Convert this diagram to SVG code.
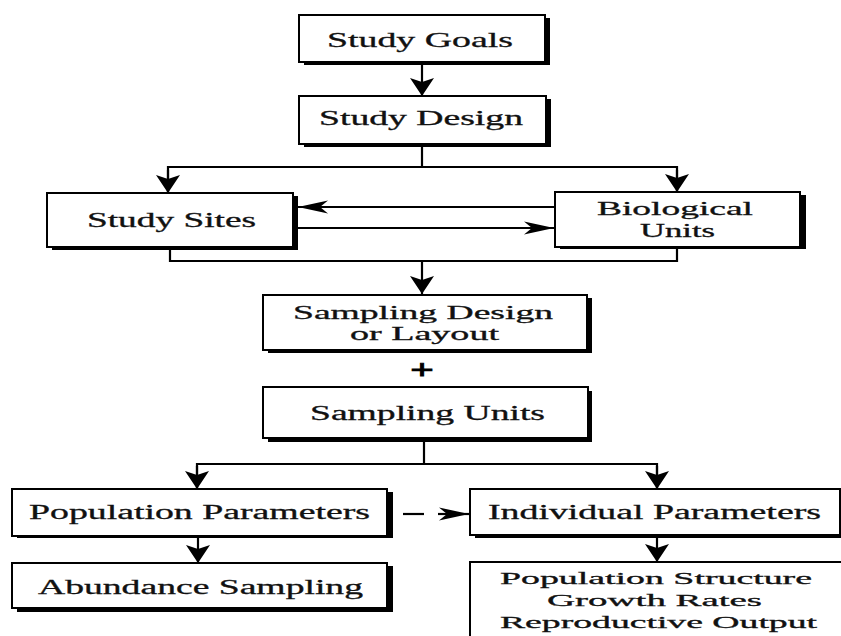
<svg xmlns="http://www.w3.org/2000/svg" width="841" height="636" viewBox="0 0 841 636">
  <style>
    .face { fill: #ffffff; stroke: #000000; stroke-width: 2; }
    .shadow { fill: #000000; }
    .lbl { font-family: "Liberation Serif", "Times New Roman", serif; font-size: 20px; fill: #111111; text-anchor: middle; stroke: #111111; stroke-width: 0.3; }
    .lbl2 { font-size: 18px; }
    .lbl3 { font-size: 16.5px; }
    .plus { font-family: "Liberation Serif", "Times New Roman", serif; font-size: 28px; font-weight: bold; fill: #000000; stroke: #000000; stroke-width: 0.8; text-anchor: middle; }
    .conn { fill: none; stroke: #000000; stroke-width: 2.2; }
    .big { marker-end: url(#bigArrow); }
    .thin { marker-end: url(#thinArrow); }
  </style>
  <defs>
    <marker id="bigArrow" markerUnits="userSpaceOnUse" viewBox="-20 -13 21 26" refX="0" refY="0" markerWidth="21" markerHeight="26" orient="auto">
      <path d="M0,0 L-18,-12 L-14,0 L-18,12 Z" fill="#000000"/>
    </marker>
    <marker id="thinArrow" markerUnits="userSpaceOnUse" viewBox="-32 -8 33 16" refX="0" refY="0" markerWidth="33" markerHeight="16" orient="auto">
      <path d="M0,0 L-30,-6.5 L-22,0 L-30,6.5 Z" fill="#000000"/>
    </marker>
  </defs>

  <rect x="0" y="0" width="841" height="636" fill="#ffffff"/>

  <g id="connectors">
    <line class="conn big" x1="422" y1="65" x2="422" y2="96"/>
    <polyline class="conn" points="422,147 422,167"/>
    <polyline class="conn" points="168,192 168,167 677,167 677,192"/>
    <line class="conn big" x1="168" y1="170" x2="168" y2="193"/>
    <line class="conn big" x1="677" y1="170" x2="677" y2="192"/>
    <line class="conn thin" x1="555" y1="207" x2="298" y2="207"/>
    <line class="conn thin" x1="298" y1="228" x2="554" y2="228"/>
    <polyline class="conn" points="170,250 170,261 677,261 677,249"/>
    <line class="conn big" x1="422" y1="261" x2="422" y2="294"/>
    <line class="conn" x1="424" y1="442" x2="424" y2="464"/>
    <polyline class="conn" points="197,488 197,464 657,464 657,488"/>
    <line class="conn big" x1="197" y1="466" x2="197" y2="489"/>
    <line class="conn big" x1="657" y1="466" x2="657" y2="489"/>
    <line class="conn" x1="403" y1="514" x2="424" y2="514"/>
    <line class="conn thin" x1="438" y1="514" x2="469" y2="514"/>
    <line class="conn big" x1="198" y1="538" x2="198" y2="563"/>
    <line class="conn big" x1="657" y1="538" x2="657" y2="562"/>
  </g>

  <g id="study-goals">
    <rect class="shadow" x="304" y="18" width="246" height="47"/>
    <rect class="face" x="299" y="15" width="246" height="47"/>
    <text class="lbl" x="420" y="47" textLength="186" lengthAdjust="spacingAndGlyphs" style="font-size:21px">Study Goals</text>
  </g>

  <g id="study-design">
    <rect class="shadow" x="304" y="99" width="247" height="48"/>
    <rect class="face" x="299" y="96" width="247" height="48"/>
    <text class="lbl" x="421" y="125" textLength="204" lengthAdjust="spacingAndGlyphs">Study Design</text>
  </g>

  <g id="study-sites">
    <rect class="shadow" x="52" y="196" width="246" height="54"/>
    <rect class="face" x="47" y="193" width="246" height="54"/>
    <text class="lbl" x="171.5" y="227" textLength="169" lengthAdjust="spacingAndGlyphs">Study Sites</text>
  </g>

  <g id="biological-units">
    <rect class="shadow" x="560" y="195" width="246" height="54"/>
    <rect class="face" x="555" y="192" width="245" height="55"/>
    <text class="lbl lbl2" x="675" y="215" textLength="156" lengthAdjust="spacingAndGlyphs">Biological</text>
    <text class="lbl lbl2" x="677.5" y="237" textLength="75" lengthAdjust="spacingAndGlyphs">Units</text>
  </g>

  <g id="sampling-design">
    <rect class="shadow" x="268" y="298" width="324" height="55"/>
    <rect class="face" x="263" y="295" width="324" height="55"/>
    <text class="lbl lbl2" x="423" y="319" textLength="260" lengthAdjust="spacingAndGlyphs" style="font-size:19px">Sampling Design</text>
    <text class="lbl lbl2" x="424.5" y="340" textLength="149" lengthAdjust="spacingAndGlyphs">or Layout</text>
  </g>

  <g id="plus">
    <text class="plus" x="422" y="379" textLength="24" lengthAdjust="spacingAndGlyphs">+</text>
  </g>

  <g id="sampling-units">
    <rect class="shadow" x="268" y="391" width="324" height="51"/>
    <rect class="face" x="263" y="387" width="325" height="51"/>
    <text class="lbl" x="427.5" y="420" textLength="235" lengthAdjust="spacingAndGlyphs">Sampling Units</text>
  </g>

  <g id="population-parameters">
    <rect class="shadow" x="17" y="492" width="376" height="46"/>
    <rect class="face" x="12" y="489" width="375" height="47"/>
    <text class="lbl" x="199.5" y="519" textLength="341" lengthAdjust="spacingAndGlyphs">Population Parameters</text>
  </g>

  <g id="individual-parameters">
    <rect class="shadow" x="475" y="492" width="370" height="46"/>
    <rect class="face" x="470" y="489" width="370" height="46"/>
    <text class="lbl" x="654.5" y="519" textLength="333" lengthAdjust="spacingAndGlyphs">Individual Parameters</text>
  </g>

  <g id="abundance-sampling">
    <rect class="shadow" x="17" y="566" width="376" height="46"/>
    <rect class="face" x="12" y="563" width="375" height="45"/>
    <text class="lbl" x="200.5" y="594" textLength="325" lengthAdjust="spacingAndGlyphs">Abundance Sampling</text>
  </g>

  <g id="population-structure">
    <rect class="face" x="470" y="562" width="372" height="80"/>
    <text class="lbl lbl3" x="656" y="584" textLength="312" lengthAdjust="spacingAndGlyphs">Population Structure</text>
    <text class="lbl lbl3" x="654.5" y="606" textLength="215" lengthAdjust="spacingAndGlyphs">Growth Rates</text>
    <text class="lbl lbl3" x="658.5" y="628" textLength="317" lengthAdjust="spacingAndGlyphs">Reproductive Output</text>
  </g>
</svg>
